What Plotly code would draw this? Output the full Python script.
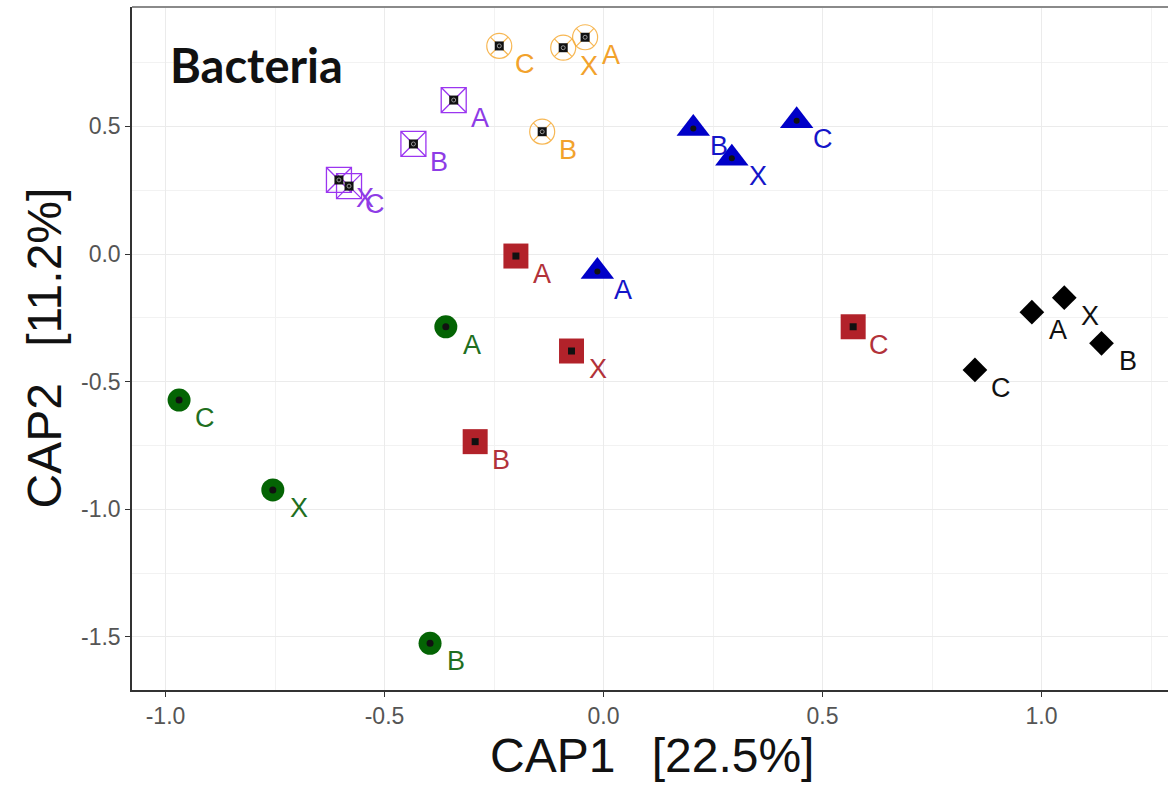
import plotly.graph_objects as go

# ---- data ----
labels_orange = ["C", "X", "A", "B"]
orange_x = [-0.238, -0.092, -0.042, -0.140]
orange_y = [0.815, 0.808, 0.849, 0.479]

labels_purple = ["A", "B", "X", "C"]
purple_x = [-0.342, -0.434, -0.604, -0.581]
purple_y = [0.603, 0.431, 0.290, 0.266]

labels_blue = ["B", "X", "C", "A"]
blue_x = [0.205, 0.293, 0.441, -0.014]
blue_y = [0.492, 0.375, 0.522, -0.069]

labels_red = ["A", "X", "C", "B"]
red_x = [-0.200, -0.073, 0.570, -0.293]
red_y = [-0.008, -0.380, -0.285, -0.735]

labels_green = ["A", "C", "X", "B"]
green_x = [-0.360, -0.969, -0.755, -0.396]
green_y = [-0.285, -0.572, -0.924, -1.525]

labels_black = ["A", "X", "B", "C"]
black_x = [0.978, 1.052, 1.137, 0.848]
black_y = [-0.228, -0.171, -0.350, -0.454]

tick_vals_x = [-1.0, -0.5, 0.0, 0.5, 1.0]
tick_text_x = ["-1.0", "-0.5", "0.0", "0.5", "1.0"]
tick_vals_y = [0.5, 0.0, -0.5, -1.0, -1.5]
tick_text_y = ["0.5", "0.0", "-0.5", "-1.0", "-1.5"]

x_title = "CAP1\u00a0\u00a0\u2009[22.5%]"
y_title = "CAP2\u00a0\u00a0\u2009[11.2%]"
panel_title = "Bacteria"

# ---- styles ----
groups = [
    dict(x=orange_x, y=orange_y, lab=labels_orange, sym="circle-x-open", size=25,
         color="rgba(245,165,40,0.8)", lw=1.2, txt="#F2A22C", dot="square", dsize=9, inner=True),
    dict(x=purple_x, y=purple_y, lab=labels_purple, sym="square-x-open", size=25,
         color="#9B35F0", lw=1.3, txt="#8E3CE6", dot="square", dsize=9, inner=True),
    dict(x=blue_x, y=blue_y, lab=labels_blue, sym="triangle-up", size=29,
         color="#0000C8", lw=0, txt="#1515C8", dot="circle", dsize=6, inner=False),
    dict(x=red_x, y=red_y, lab=labels_red, sym="square", size=25,
         color="#B2222A", lw=0, txt="#B2323A", dot="square", dsize=7, inner=False),
    dict(x=green_x, y=green_y, lab=labels_green, sym="circle", size=23,
         color="#046404", lw=0, txt="#1F6F1F", dot="circle", dsize=7, inner=False),
    dict(x=black_x, y=black_y, lab=labels_black, sym="diamond", size=19,
         color="#000000", lw=0, txt="#111111", dot=None, dsize=0, inner=False),
]

fig = go.Figure()
annotations = []
for g in groups:
    fig.add_trace(go.Scatter(
        x=g["x"], y=g["y"], mode="markers", showlegend=False, hoverinfo="skip",
        marker=dict(symbol=g["sym"], size=g["size"], color=g["color"],
                    line=dict(width=g["lw"], color=g["color"]))))
    if g["dot"]:
        fig.add_trace(go.Scatter(
            x=g["x"], y=g["y"], mode="markers", showlegend=False, hoverinfo="skip",
            marker=dict(symbol=g["dot"], size=g["dsize"], color="#111111",
                        line=dict(width=0))))
    if g["inner"]:
        fig.add_trace(go.Scatter(
            x=g["x"], y=g["y"], mode="markers", showlegend=False, hoverinfo="skip",
            marker=dict(symbol="circle-open", size=4, color="#9a9a9a",
                        line=dict(width=1, color="#9a9a9a"))))
    for xx, yy, t in zip(g["x"], g["y"], g["lab"]):
        annotations.append(dict(
            x=xx, y=yy, xref="x", yref="y", text=t, showarrow=False,
            xanchor="center", yanchor="middle", xshift=26, yshift=-18,
            font=dict(family="Liberation Sans, Arial", size=27, color=g["txt"])))

annotations.append(dict(
    x=0.035, y=0.915, xref="paper", yref="paper", text="<b>%s</b>" % panel_title,
    showarrow=False, xanchor="left", yanchor="middle",
    font=dict(family="Lato", size=47, color="#111111")))
annotations.append(dict(
    x=0.502, y=-0.0952, xref="paper", yref="paper", text=x_title,
    showarrow=False, xanchor="center", yanchor="middle",
    font=dict(family="Liberation Sans, Arial", size=48, color="#111111")))
annotations.append(dict(
    x=-0.0849, y=0.5, xref="paper", yref="paper", text=y_title, textangle=-90,
    showarrow=False, xanchor="center", yanchor="middle",
    font=dict(family="Liberation Sans, Arial", size=48, color="#111111")))

grid_major = "#EBEBEB"
grid_minor = "#F2F2F2"
axis_common = dict(
    showgrid=True, gridcolor=grid_major, gridwidth=1.1, zeroline=False,
    showline=True, linecolor="#333333", linewidth=1.5,
    ticks="outside", ticklen=5, tickwidth=1.3, tickcolor="#333333",
    tickfont=dict(family="Liberation Sans, Arial", size=23, color="#555555"),
)

fig.update_layout(
    width=1168, height=788,
    margin=dict(l=132, r=0, t=7, b=98),
    paper_bgcolor="white", plot_bgcolor="white",
    xaxis=dict(range=[-1.0765, 1.2888], tickvals=tick_vals_x, ticktext=tick_text_x,
               minor=dict(dtick=0.25, tick0=0, showgrid=True, gridcolor=grid_minor,
                          gridwidth=0.7, ticks=""),
               **axis_common),
    yaxis=dict(range=[-1.7078, 0.9675], tickvals=tick_vals_y, ticktext=tick_text_y,
               minor=dict(dtick=0.25, tick0=0, showgrid=True, gridcolor=grid_minor,
                          gridwidth=0.7, ticks=""),
               **axis_common),
    annotations=annotations,
    shapes=[dict(type="line", xref="paper", yref="paper", x0=0, x1=1, y0=1, y1=1,
                 line=dict(color="#8a8a8a", width=2))],
)

fig.write_html("out.html")
